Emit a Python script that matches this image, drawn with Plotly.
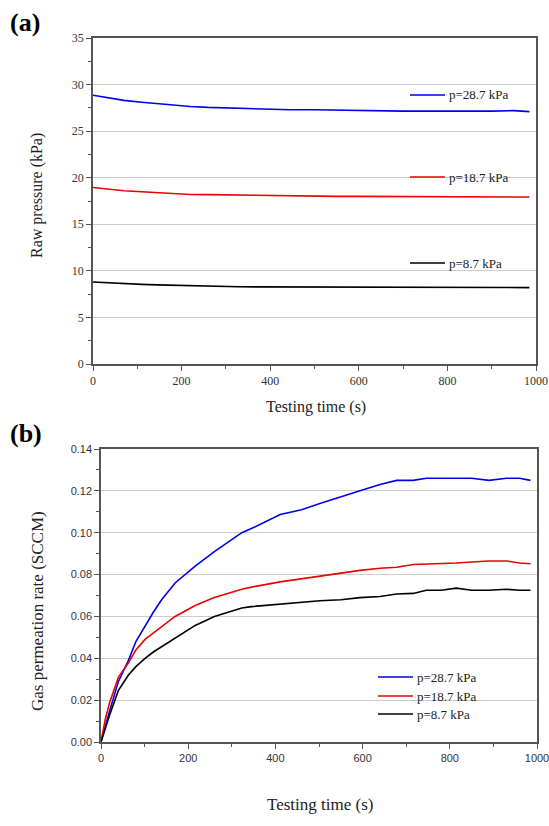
import plotly.graph_objects as go

W, H = 549, 826

# ---- panel (a) data: raw pressure vs time ----
t_a = [0, 30, 70, 110, 145, 180, 220, 260, 295, 330, 370, 410, 445, 500, 550, 600, 650, 700, 750, 800, 850, 900, 950, 985]
p287 = [28.85, 28.6, 28.3, 28.1, 27.95, 27.8, 27.65, 27.55, 27.5, 27.45, 27.4, 27.35, 27.3, 27.3, 27.25, 27.25, 27.2, 27.15, 27.15, 27.15, 27.1, 27.15, 27.2, 27.1]
p187 = [18.95, 18.8, 18.6, 18.5, 18.4, 18.3, 18.2, 18.18, 18.15, 18.12, 18.1, 18.08, 18.07, 18.05, 18.0, 18.0, 17.98, 17.97, 17.97, 17.95, 17.95, 17.95, 17.93, 17.93]
p87 = [8.8, 8.72, 8.62, 8.55, 8.5, 8.45, 8.4, 8.36, 8.33, 8.3, 8.28, 8.27, 8.26, 8.25, 8.25, 8.24, 8.23, 8.22, 8.22, 8.21, 8.21, 8.2, 8.2, 8.2]

# ---- panel (b) data: gas permeation rate vs time ----
t_b = [0, 10, 20, 40, 63, 80, 101, 120, 139, 170, 216, 260, 323, 345, 411, 460, 502, 550, 594, 640, 678, 716, 746, 780, 815, 850, 890, 930, 960, 985]
q287 = [0.0, 0.008, 0.015, 0.029, 0.039, 0.048, 0.0556, 0.062, 0.068, 0.076, 0.084, 0.091, 0.100, 0.102, 0.1087, 0.111, 0.114, 0.117, 0.120, 0.123, 0.125, 0.125, 0.126, 0.126, 0.126, 0.126, 0.125, 0.126, 0.126, 0.125]
q187 = [0.0, 0.011, 0.019, 0.031, 0.0378, 0.044, 0.049, 0.052, 0.055, 0.060, 0.0652, 0.069, 0.073, 0.074, 0.0765, 0.078, 0.079, 0.0804, 0.082, 0.083, 0.0835, 0.0848, 0.085, 0.085, 0.0855, 0.086, 0.0865, 0.0865, 0.0855, 0.0852]
q87 = [0.0, 0.007, 0.013, 0.0247, 0.032, 0.036, 0.040, 0.043, 0.0455, 0.050, 0.0557, 0.060, 0.0640, 0.0647, 0.066, 0.067, 0.0675, 0.068, 0.069, 0.0695, 0.0707, 0.071, 0.0725, 0.0725, 0.0735, 0.0725, 0.0725, 0.073, 0.0725, 0.0725]

labels = ["p=28.7 kPa", "p=18.7 kPa", "p=8.7 kPa"]
colors = ["#0000ee", "#ee0000", "#000000"]

fig = go.Figure()
for ys, c, name in zip([p287, p187, p87], colors, labels):
    fig.add_trace(go.Scatter(x=t_a, y=ys, mode="lines", line=dict(color=c, width=1.6),
                             name=name, xaxis="x", yaxis="y", showlegend=False))
for ys, c, name in zip([q287, q187, q87], colors, labels):
    fig.add_trace(go.Scatter(x=t_b, y=ys, mode="lines", line=dict(color=c, width=1.6),
                             name=name, xaxis="x2", yaxis="y2", showlegend=False))

def px(x):
    return x / W

def py(y):
    return 1 - y / H

axcol = "#555555"
common = dict(showline=True, linecolor=axcol, linewidth=1.5, mirror=True,
              ticks="outside", ticklen=5, tickcolor=axcol, tickwidth=1.2,
              zeroline=False, automargin=False, ticklabeloverflow="allow")
serif_ticks = dict(family="Liberation Serif", size=12, color="#333333")
sans_ticks = dict(family="Liberation Sans", size=11, color="#333333")
title_font = dict(family="Liberation Serif", size=16, color="#222222")

fig.update_layout(
    width=W, height=H, margin=dict(l=0, r=0, t=0, b=0),
    plot_bgcolor="white", paper_bgcolor="white",
    xaxis=dict(domain=[px(93), px(536)], anchor="y", range=[0, 1000], dtick=200,
               showgrid=False, tickfont=serif_ticks,
               minor=dict(dtick=100, ticks="outside", ticklen=3, tickcolor=axcol), **common),
    yaxis=dict(domain=[py(364), py(38)], anchor="x", range=[0, 35], dtick=5,
               showgrid=True, gridcolor="#cccccc", gridwidth=1, tickfont=serif_ticks,
               minor=dict(dtick=2.5, ticks="outside", ticklen=3, tickcolor=axcol, showgrid=False),
               **common),
    xaxis2=dict(domain=[px(101), px(537)], anchor="y2", range=[0, 1000], dtick=200,
                showgrid=False, tickfont=sans_ticks,
                minor=dict(dtick=100, ticks="outside", ticklen=3, tickcolor=axcol), **common),
    yaxis2=dict(domain=[py(742), py(449)], anchor="x2", range=[0, 0.14], dtick=0.02,
                tickformat=".2f", showgrid=True, gridcolor="#cccccc", gridwidth=1, tickfont=sans_ticks,
                minor=dict(dtick=0.01, ticks="outside", ticklen=3, tickcolor=axcol, showgrid=False),
                **common),
)

def note(x, y, text, font, angle=0, xanchor="center"):
    fig.add_annotation(x=px(x), y=py(y), xref="paper", yref="paper", text=text,
                       showarrow=False, xanchor=xanchor, yanchor="middle",
                       textangle=angle, font=font)

# axis titles
note(316, 407, "Testing time (s)", title_font)
note(37, 196, "Raw pressure (kPa)", title_font, angle=-90)
note(320, 804, "Testing time (s)", dict(title_font, size=17))
note(37, 611, "Gas permeation rate (SCCM)", dict(title_font, size=17), angle=-90)

# panel labels
note(8, 22, "<b>(a)</b>", dict(family="Liberation Serif", size=26, color="black"), xanchor="left")
note(8, 433, "<b>(b)</b>", dict(family="Liberation Serif", size=26, color="black"), xanchor="left")

lab_font = dict(family="Liberation Serif", size=13, color="#222222")
# panel (a) labels next to each curve
for ypix, c, name in zip([95, 177, 263], colors, labels):
    fig.add_shape(type="line", xref="paper", yref="paper", x0=px(410), x1=px(445),
                  y0=py(ypix), y1=py(ypix), line=dict(color=c, width=1.6))
    note(447, ypix, name, lab_font, xanchor="left")
# panel (b) legend
for ypix, c, name in zip([677, 696, 714], colors, labels):
    fig.add_shape(type="line", xref="paper", yref="paper", x0=px(378), x1=px(413),
                  y0=py(ypix), y1=py(ypix), line=dict(color=c, width=1.6))
    note(415, ypix, name, lab_font, xanchor="left")

fig.write_html("out.html", config={"displayModeBar": False},
               post_script="document.body.style.margin='0';document.body.style.overflow='hidden';")
